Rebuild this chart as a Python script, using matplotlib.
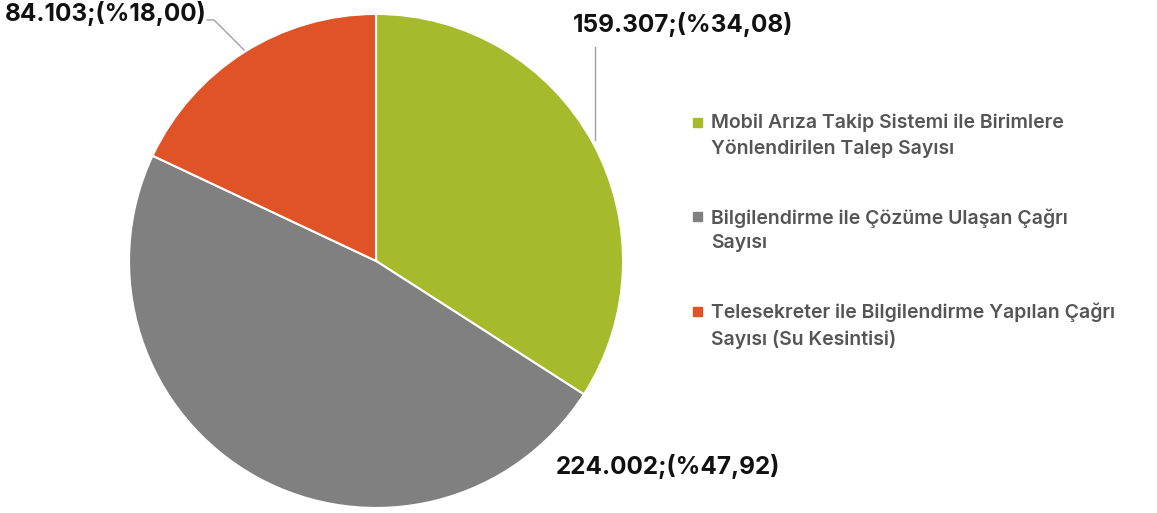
import matplotlib.pyplot as plt
from matplotlib.patches import Rectangle

# Çağrı merkezi dağılımı
kategoriler = [
    "Mobil Arıza Takip Sistemi ile Birimlere\nYönlendirilen Talep Sayısı",
    "Bilgilendirme ile Çözüme Ulaşan Çağrı\nSayısı",
    "Telesekreter ile Bilgilendirme Yapılan Çağrı\nSayısı (Su Kesintisi)",
]
degerler = [159307, 224002, 84103]
etiketler = ["159.307;(%34,08)", "224.002;(%47,92)", "84.103;(%18,00)"]
renkler = ["#A6BA2B", "#808080", "#E05326"]

plt.rcParams['font.family'] = ['Inter', 'DejaVu Sans']

fig = plt.figure(figsize=(11.57, 5.13), dpi=100)
ax = fig.add_axes([0.1115, 0.0098, 0.427, 0.963])

ax.pie(degerler, colors=renkler, startangle=90, counterclock=False,
       wedgeprops=dict(edgecolor='white', linewidth=1.5), radius=1.0)
ax.set_xlim(-1, 1)
ax.set_ylim(-1, 1)
ax.set_aspect('equal')

# Değer etiketleri (piksel -> eksen koordinatı)
def px(x, y):
    return ((x - 376) / 247, (261 - y) / 247)

lbl = dict(fontsize=17.5, fontweight='bold', color='#111111', va='center')
ax.annotate(etiketler[0], xy=px(595, 140), xytext=px(683, 25),
            ha='center', annotation_clip=False, **lbl)
ax.plot(*zip(px(595, 47), px(595, 140)), color='#A0A0A0', lw=1.0, clip_on=False)

ax.annotate(etiketler[1], xy=px(668, 467), xytext=px(668, 467),
            ha='center', annotation_clip=False, **lbl)

ax.annotate(etiketler[2], xy=px(106, 14), xytext=px(106, 14),
            ha='center', annotation_clip=False, **lbl)
ax.plot(*zip(px(207, 20), px(214, 20), px(244, 50)), color='#A0A0A0', lw=1.0,
        clip_on=False)

# Lejant
lejant_y = [122, 216, 311]
for kat, renk, y in zip(kategoriler, renkler, lejant_y):
    fig.patches.append(Rectangle((693 / 1157, 1 - (y + 5) / 513), 9 / 1157, 9 / 513,
                                 transform=fig.transFigure, color=renk))
    fig.text(711 / 1157, 1 - (y - 8) / 513, kat, fontsize=14, fontweight='semibold',
             color='#555555', va='top', ha='left', linespacing=1.5)

fig.savefig('out.png', dpi=100, facecolor='white')
